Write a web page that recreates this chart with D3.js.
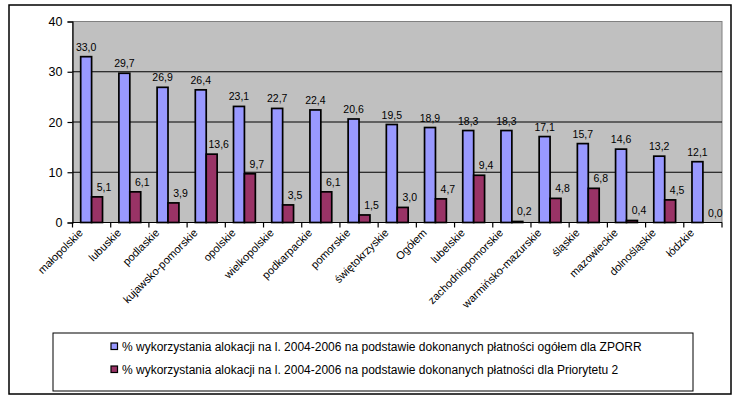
<!DOCTYPE html>
<html>
<head>
<meta charset="utf-8">
<script src="https://cdn.jsdelivr.net/npm/d3@7/dist/d3.min.js"></script>
<style>
  html, body { margin: 0; padding: 0; background: #fff; }
  svg { display: block; }
  text { font-family: Arial, "Liberation Sans", sans-serif; fill: #000; }
</style>
</head>
<body>
<svg id="chart" width="742" height="401"></svg>
<script>
const categories = ["małopolskie","lubuskie","podlaskie","kujawsko-pomorskie","opolskie","wielkopolskie","podkarpackie","pomorskie","świętokrzyskie","Ogółem","lubelskie","zachodniopomorskie","warmińsko-mazurskie","śląskie","mazowieckie","dolnośląskie","łódzkie"];
const seriesZPORR = [33.0,29.7,26.9,26.4,23.1,22.7,22.4,20.6,19.5,18.9,18.3,18.3,17.1,15.7,14.6,13.2,12.1];
const seriesP2 = [5.1,6.1,3.9,13.6,9.7,3.5,6.1,1.5,3.0,4.7,9.4,0.2,4.8,6.8,0.4,4.5,0.0];
const seriesNames = [
  "% wykorzystania alokacji na l. 2004-2006 na podstawie dokonanych płatności ogółem dla ZPORR",
  "% wykorzystania alokacji na l. 2004-2006 na podstawie dokonanych płatności dla Priorytetu 2"
];
const yTicks = [0,10,20,30,40];
const colors = ["#9999FF", "#993366"];

const svg = d3.select("#chart");
const fmt = v => v.toFixed(1).replace(".", ",");

// outer frame
svg.append("rect").attr("x", 9).attr("y", 5).attr("width", 722).attr("height", 389)
  .attr("fill", "#fff").attr("stroke", "#000").attr("stroke-width", 1.5);

const pLeft = 72.5, pRight = 722, pTop = 21.5, pBottom = 222.5;
const x = d3.scaleBand().domain(categories).range([pLeft, pRight]).paddingInner(0).paddingOuter(0);
const y = d3.scaleLinear().domain([0, 40]).range([pBottom, pTop]);
const bw = x.bandwidth() / 3.5;

// plot background
svg.append("rect").attr("x", pLeft).attr("y", pTop).attr("width", pRight - pLeft).attr("height", pBottom - pTop)
  .attr("fill", "#C0C0C0").attr("stroke", "#808080").attr("stroke-width", 1);

// gridlines
svg.append("g").selectAll("line").data(yTicks.filter(t => t > 0 && t < 40)).join("line")
  .attr("x1", pLeft).attr("x2", pRight).attr("y1", d => y(d)).attr("y2", d => y(d))
  .attr("stroke", "#000").attr("stroke-width", 1);

// bars
const series = [seriesZPORR, seriesP2];
series.forEach((vals, si) => {
  svg.append("g").selectAll("rect").data(vals).join("rect")
    .attr("x", (d, i) => x(categories[i]) + 0.75 * bw + si * bw)
    .attr("y", d => y(d))
    .attr("width", bw)
    .attr("height", d => y(0) - y(d))
    .attr("fill", colors[si])
    .attr("stroke", "#000")
    .attr("stroke-width", d => d > 0 ? 1.7 : 0);
  svg.append("g").selectAll("text").data(vals).join("text")
    .attr("x", (d, i) => x(categories[i]) + 0.75 * bw + si * bw + bw / 2 + (si === 1 ? 7 : 0))
    .attr("y", d => y(d) - 6)
    .attr("text-anchor", "middle")
    .attr("font-size", "10.5px")
    .text(d => fmt(d));
});

// y axis
const yAxis = d3.axisLeft(y).tickValues(yTicks).tickSize(5).tickPadding(5).tickFormat(d3.format("d"));
const gy = svg.append("g").attr("transform", `translate(${pLeft},0)`).call(yAxis);
gy.select(".domain").attr("stroke", "#000").attr("stroke-width", 1.2);
gy.selectAll(".tick line").attr("stroke", "#000").attr("stroke-width", 1.2);
gy.selectAll(".tick text").attr("font-size", "12.5px").attr("font-family", "Arial, 'Liberation Sans', sans-serif").attr("fill", "#000");

// x axis line and ticks at category boundaries
svg.append("line").attr("x1", pLeft).attr("x2", pRight).attr("y1", pBottom).attr("y2", pBottom)
  .attr("stroke", "#000").attr("stroke-width", 1.2);
const bounds = categories.map(c => x(c)).concat([pRight]);
svg.append("g").selectAll("line").data(bounds).join("line")
  .attr("x1", d => d).attr("x2", d => d).attr("y1", pBottom).attr("y2", pBottom + 5)
  .attr("stroke", "#000").attr("stroke-width", 1.2);

// x labels
svg.append("g").selectAll("text").data(categories).join("text")
  .attr("transform", d => `translate(${x(d) + x.bandwidth() / 2 - 8},${pBottom + 11}) rotate(-45)`)
  .attr("text-anchor", "end")
  .attr("font-size", "11px")
  .text(d => d);

// legend
svg.append("rect").attr("x", 53).attr("y", 333).attr("width", 640).attr("height", 58)
  .attr("fill", "#fff").attr("stroke", "#000").attr("stroke-width", 1);
const legY = [347, 370];
seriesNames.forEach((name, i) => {
  svg.append("rect").attr("x", 111).attr("y", legY[i] - 4).attr("width", 6.5).attr("height", 6.5)
    .attr("fill", colors[i]).attr("stroke", "#000").attr("stroke-width", 1.2);
  svg.append("text").attr("x", 122).attr("y", legY[i] + 4).attr("font-size", "12px").text(name);
});
</script>
</body>
</html>
